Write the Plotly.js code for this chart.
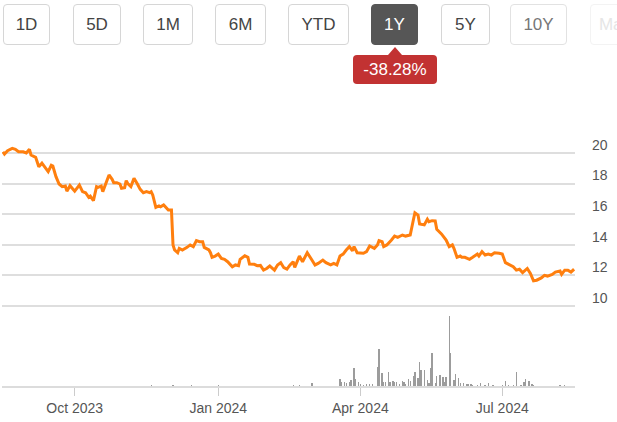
<!DOCTYPE html>
<html>
<head>
<meta charset="utf-8">
<script src="https://cdn.plot.ly/plotly-3.0.1.min.js"></script>
<style>
  html, body { margin: 0; padding: 0; background: #fff; overflow: hidden; }
  #wrap { position: relative; width: 617px; height: 422px; font-family: "Liberation Sans", Arial, sans-serif; }
  #chart { position: absolute; left: 0; top: 0; width: 617px; height: 422px; }
  .btn { position: absolute; top: 4px; height: 41px; box-sizing: border-box; border: 1px solid #d6d6d6; border-radius: 4px;
         background: #fff; color: #444; font-size: 17px; display: flex; align-items: center; justify-content: center; z-index: 2; }
  .btn.sel { background: #565656; border-color: #565656; color: #fff; }
  .btn.dim { color: #777; border-color: #e2e2e2; }
  .btn.faint { color: #e6e6e6; border-color: #f3f3f3; }
  #badge { position: absolute; left: 353px; top: 55px; width: 84px; height: 29px; background: #c23232; color: #fff; border-radius: 4px;
           font-size: 17px; display: flex; align-items: center; justify-content: center; z-index: 2; }
  #pointer { position: absolute; left: 388px; top: 47px; width: 0; height: 0; border-left: 7px solid transparent;
             border-right: 7px solid transparent; border-bottom: 8px solid #c23232; z-index: 2; }
</style>
</head>
<body>
<div id="wrap">
  <div id="chart"></div>
  <div id="buttons"></div>
  <div id="pointer"></div>
  <div id="badge"></div>
</div>
<script>
// ---- Range buttons ----
const rangeLabels = ['1D', '5D', '1M', '6M', 'YTD', '1Y', '5Y', '10Y', 'Max'];
const selectedRange = '1Y';
const changeText = '-38.28%';

// ---- Price series ----
const priceDates = [
 '2023-08-16','2023-08-17','2023-08-19','2023-08-22','2023-08-24','2023-08-26','2023-08-29','2023-08-31','2023-09-02','2023-09-03',
 '2023-09-06','2023-09-08','2023-09-10','2023-09-12','2023-09-14','2023-09-16','2023-09-17','2023-09-19','2023-09-21','2023-09-23',
 '2023-09-25','2023-09-26','2023-09-28','2023-10-01','2023-10-04','2023-10-06','2023-10-08','2023-10-10','2023-10-11','2023-10-13',
 '2023-10-15','2023-10-16','2023-10-18','2023-10-19','2023-10-21','2023-10-23','2023-10-25','2023-10-26','2023-10-28','2023-10-30',
 '2023-10-31','2023-11-02','2023-11-03','2023-11-04','2023-11-06','2023-11-08','2023-11-10','2023-11-12','2023-11-14','2023-11-16',
 '2023-11-18','2023-11-19','2023-11-20','2023-11-22','2023-11-24','2023-11-25','2023-11-27','2023-11-29','2023-11-30','2023-12-02',
 '2023-12-03','2023-12-04','2023-12-06','2023-12-07','2023-12-09','2023-12-12','2023-12-14','2023-12-16','2023-12-18','2023-12-20',
 '2023-12-22','2023-12-23','2023-12-26','2023-12-27','2023-12-28','2023-12-30','2024-01-01','2024-01-03','2024-01-05','2024-01-07',
 '2024-01-10','2024-01-12','2024-01-14','2024-01-15','2024-01-18','2024-01-20','2024-01-21','2024-01-24','2024-01-26','2024-01-28',
 '2024-01-30','2024-02-01','2024-02-03','2024-02-04','2024-02-06','2024-02-08','2024-02-10','2024-02-12','2024-02-14','2024-02-16',
 '2024-02-18','2024-02-19','2024-02-22','2024-02-24','2024-02-27','2024-03-01','2024-03-03','2024-03-05','2024-03-08','2024-03-10',
 '2024-03-13','2024-03-15','2024-03-17','2024-03-19','2024-03-21','2024-03-23','2024-03-25','2024-03-27','2024-03-28','2024-03-30',
 '2024-04-01','2024-04-03','2024-04-05','2024-04-07','2024-04-10','2024-04-12','2024-04-13','2024-04-15','2024-04-16','2024-04-18',
 '2024-04-21','2024-04-23','2024-04-25','2024-04-28','2024-04-30','2024-05-03','2024-05-05','2024-05-06','2024-05-08','2024-05-09',
 '2024-05-12','2024-05-14','2024-05-15','2024-05-17','2024-05-19','2024-05-20','2024-05-23','2024-05-25','2024-05-26','2024-05-28',
 '2024-05-30','2024-05-31','2024-06-02','2024-06-04','2024-06-05','2024-06-07','2024-06-10','2024-06-12','2024-06-15','2024-06-16',
 '2024-06-18','2024-06-20','2024-06-22','2024-06-24','2024-06-26','2024-06-29','2024-07-01','2024-07-03','2024-07-05','2024-07-08',
 '2024-07-10','2024-07-12','2024-07-14','2024-07-17','2024-07-19','2024-07-21','2024-07-23','2024-07-26','2024-07-28','2024-07-30',
 '2024-08-02','2024-08-04','2024-08-07','2024-08-08','2024-08-10','2024-08-12','2024-08-14','2024-08-16'
];
const prices = [
 20.08,19.93,20.15,20.30,20.24,20.08,20.08,20.00,20.24,19.87,
 19.72,19.10,19.33,19.06,18.78,19.20,19.15,18.45,17.97,17.80,
 17.84,17.50,17.86,17.50,17.90,17.47,17.40,17.10,17.18,16.88,
 17.80,17.75,17.84,17.47,18.00,18.56,18.28,18.06,18.06,17.97,
 17.69,17.73,18.19,18.00,17.80,18.34,18.00,17.62,17.40,17.47,
 17.40,17.47,17.25,16.44,16.53,16.48,16.60,16.38,16.27,16.27,
 13.98,13.65,13.47,13.76,13.65,13.82,13.98,13.87,14.26,14.19,
 14.19,13.82,13.65,13.47,13.17,13.25,13.38,13.10,13.04,12.88,
 12.55,12.67,12.62,13.04,13.27,13.17,12.73,12.71,12.62,12.64,
 12.33,12.44,12.60,12.51,12.33,12.67,12.82,12.49,12.39,12.67,
 12.88,12.51,13.25,12.88,13.47,12.99,12.67,12.77,12.99,12.82,
 12.67,12.77,12.67,13.25,13.38,13.65,13.87,13.60,13.87,13.47,
 13.47,13.43,13.54,13.91,13.76,13.98,14.26,14.19,13.87,13.98,
 14.30,14.56,14.48,14.63,14.56,14.63,15.61,16.09,15.94,15.35,
 15.29,15.66,15.50,15.57,15.55,15.00,14.70,14.41,14.30,13.87,
 13.98,13.76,13.17,13.25,13.17,13.17,13.04,13.17,13.38,13.25,
 13.54,13.32,13.38,13.32,13.47,13.43,13.38,12.82,12.71,12.55,
 12.33,12.39,12.17,12.44,12.11,11.63,11.67,11.82,11.99,11.94,
 12.05,12.20,12.27,12.05,12.33,12.33,12.20,12.39
];

// ---- Volume series (thousands of shares) ----
const volumeDates = [
 '2023-11-19','2023-12-03','2023-12-15','2024-01-01','2024-02-18','2024-02-22','2024-03-01','2024-03-19','2024-03-20','2024-03-22',
 '2024-03-23','2024-03-25','2024-03-26','2024-03-28','2024-03-29','2024-03-31','2024-04-01','2024-04-03','2024-04-05','2024-04-07',
 '2024-04-09','2024-04-12','2024-04-13','2024-04-15','2024-04-16','2024-04-17','2024-04-19','2024-04-20','2024-04-22','2024-04-23',
 '2024-04-24','2024-04-26','2024-04-28','2024-04-29','2024-04-30','2024-05-02','2024-05-03','2024-05-05','2024-05-06','2024-05-08',
 '2024-05-09','2024-05-10','2024-05-12','2024-05-14','2024-05-15','2024-05-16','2024-05-17','2024-05-19','2024-05-20','2024-05-22',
 '2024-05-24','2024-05-25','2024-05-26','2024-05-28','2024-05-29','2024-05-31','2024-06-01','2024-06-03','2024-06-04','2024-06-06',
 '2024-06-08','2024-06-09','2024-06-11','2024-06-12','2024-06-15','2024-06-17','2024-06-20','2024-06-22','2024-06-25','2024-07-01',
 '2024-07-03','2024-07-05','2024-07-08','2024-07-10','2024-07-13','2024-07-15','2024-07-16','2024-07-18','2024-07-20','2024-07-21',
 '2024-08-07','2024-08-10'
];
const volumes = [
 15,15,15,15,15,15,33,70,40,40,
 30,40,60,180,70,40,25,15,25,25,
 25,195,375,135,40,40,145,40,55,40,
 40,20,55,40,25,70,50,105,140,80,
 240,160,160,60,35,180,327,30,100,115,
 90,40,90,700,327,60,120,80,35,30,
 20,25,20,15,15,30,15,30,15,15,
 55,15,15,140,15,40,70,50,20,15,
 15,15
];

// ---- Axis labels ----
const priceTicks = [10, 12, 14, 16, 18, 20];
const dateTickVals = ['2023-10-01', '2024-01-01', '2024-04-01', '2024-07-01'];
const dateTickText = ['Oct 2023', 'Jan 2024', 'Apr 2024', 'Jul 2024'];

// ---- HTML controls ----
const btnGeom = [[3,47],[73,48],[143,50],[215,51],[288,61],[371,47],[441,49],[510,57],[590,50]];
const bc = document.getElementById('buttons');
rangeLabels.forEach((lab, i) => {
  const d = document.createElement('div');
  d.className = 'btn' + (lab === selectedRange ? ' sel' : '') + (lab === '10Y' ? ' dim' : '') + (lab === 'Max' ? ' faint' : '');
  d.style.left = btnGeom[i][0] + 'px';
  d.style.width = btnGeom[i][1] + 'px';
  d.textContent = lab;
  bc.appendChild(d);
});
document.getElementById('badge').textContent = changeText;

// ---- Plot ----
const DAY = 86400000;
const traces = [
  {
    type: 'bar', x: volumeDates, y: volumes, yaxis: 'y2',
    marker: { color: '#9c9c9c', line: { width: 0 } }, width: DAY * 0.85,
    hoverinfo: 'skip', showlegend: false
  },
  {
    type: 'scatter', mode: 'lines', x: priceDates, y: prices,
    line: { color: '#ff7f0e', width: 3 }, showlegend: false
  }
];

const layout = {
  width: 617, height: 422,
  margin: { l: 2, r: 42, t: 100, b: 36 },
  paper_bgcolor: '#fff', plot_bgcolor: '#fff',
  font: { family: '"Liberation Sans", Arial, sans-serif', size: 14, color: '#555' },
  bargap: 0,
  xaxis: {
    type: 'date',
    range: ['2023-08-15 10:00', '2024-08-16 14:00'],
    tickvals: dateTickVals, ticktext: dateTickText,
    showgrid: false, zeroline: false,
    showline: true, linecolor: '#dcdcdc', linewidth: 2,
    ticks: 'outside', ticklen: 8, tickwidth: 1, tickcolor: '#cccccc',
    tickfont: { size: 14, color: '#555' }
  },
  yaxis: {
    side: 'right',
    range: [4.742, 23.471],
    tickvals: priceTicks,
    showgrid: true, gridcolor: '#dedede', gridwidth: 2,
    zeroline: false, showline: false,
    ticks: '', ticklabelstandoff: 16, ticklabelshift: -8,
    tickfont: { size: 14, color: '#555' }
  },
  yaxis2: {
    overlaying: 'y', side: 'left', range: [0, 2860], visible: false, showgrid: false, zeroline: false
  }
};

Plotly.newPlot('chart', traces, layout, { displayModeBar: false, staticPlot: true });
</script>
</body>
</html>
